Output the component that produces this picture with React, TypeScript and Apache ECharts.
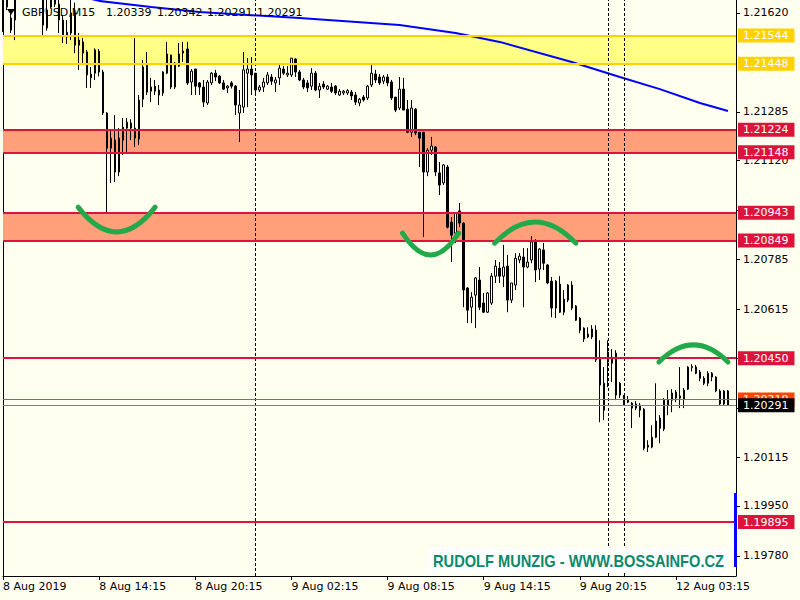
import React, { useEffect, useRef } from 'react';
import * as echarts from 'echarts';

// ---------- data ----------
const symbolTitle = 'GBPUSD,M15';
const headerPrices = ['1.20339', '1.20342', '1.20291', '1.20291'];

// [open, close, low, high] per M15 candle, starting 8 Aug 08:15
const candles: number[][] = [
  [1.21700, 1.21566, 1.21556, 1.21720], [1.21690, 1.21640, 1.21630, 1.21700], [1.21562, 1.21603, 1.21552, 1.21620],
  [1.21596, 1.21690, 1.21528, 1.21710], [1.21700, 1.21730, 1.21680, 1.21745], [1.21730, 1.21715, 1.21695, 1.21750],
  [1.21715, 1.21740, 1.21700, 1.21760], [1.21740, 1.21720, 1.21705, 1.21755], [1.21720, 1.21700, 1.21685, 1.21735],
  [1.21700, 1.21690, 1.21672, 1.21715], [1.21690, 1.21579, 1.21539, 1.21705], [1.21569, 1.21630, 1.21560, 1.21670],
  [1.21640, 1.21690, 1.21635, 1.21700], [1.21690, 1.21650, 1.21640, 1.21705], [1.21650, 1.21596, 1.21552, 1.21664],
  [1.21596, 1.21545, 1.21518, 1.21613], [1.21539, 1.21555, 1.21515, 1.21596], [1.21552, 1.21620, 1.21528, 1.21664],
  [1.21620, 1.21511, 1.21484, 1.21655], [1.21528, 1.21511, 1.21427, 1.21552], [1.21522, 1.21484, 1.21450, 1.21535],
  [1.21488, 1.21410, 1.21366, 1.21495], [1.21400, 1.21413, 1.21366, 1.21437], [1.21416, 1.21495, 1.21393, 1.21500],
  [1.21490, 1.21420, 1.21405, 1.21498], [1.21420, 1.21281, 1.21274, 1.21427], [1.21281, 1.21162, 1.20942, 1.21284],
  [1.21162, 1.21196, 1.21044, 1.21223], [1.21189, 1.21081, 1.21047, 1.21274], [1.21081, 1.21196, 1.21067, 1.21230],
  [1.21189, 1.21233, 1.21139, 1.21264], [1.21230, 1.21250, 1.21142, 1.21264], [1.21247, 1.21230, 1.21189, 1.21260],
  [1.21230, 1.21196, 1.21166, 1.21535], [1.21193, 1.21325, 1.21172, 1.21342], [1.21328, 1.21437, 1.21301, 1.21461],
  [1.21444, 1.21352, 1.21342, 1.21488], [1.21355, 1.21369, 1.21318, 1.21400], [1.21372, 1.21355, 1.21342, 1.21393],
  [1.21359, 1.21342, 1.21308, 1.21376], [1.21349, 1.21420, 1.21339, 1.21423], [1.21416, 1.21481, 1.21413, 1.21522],
  [1.21478, 1.21369, 1.21362, 1.21478], [1.21369, 1.21450, 1.21362, 1.21454], [1.21440, 1.21481, 1.21437, 1.21518],
  [1.21484, 1.21491, 1.21454, 1.21522], [1.21498, 1.21383, 1.21376, 1.21522], [1.21386, 1.21423, 1.21342, 1.21430],
  [1.21430, 1.21372, 1.21342, 1.21430], [1.21383, 1.21369, 1.21342, 1.21386], [1.21369, 1.21318, 1.21301, 1.21393],
  [1.21315, 1.21386, 1.21308, 1.21393], [1.21383, 1.21416, 1.21376, 1.21420], [1.21416, 1.21403, 1.21389, 1.21427],
  [1.21406, 1.21383, 1.21379, 1.21410], [1.21383, 1.21362, 1.21359, 1.21393], [1.21366, 1.21372, 1.21349, 1.21376],
  [1.21383, 1.21372, 1.21364, 1.21389], [1.21372, 1.21308, 1.21274, 1.21376], [1.21281, 1.21308, 1.21183, 1.21359],
  [1.21301, 1.21427, 1.21281, 1.21488], [1.21416, 1.21430, 1.21301, 1.21467], [1.21430, 1.21410, 1.21342, 1.21471],
  [1.21416, 1.21359, 1.21342, 1.21416], [1.21359, 1.21369, 1.21352, 1.21376], [1.21369, 1.21386, 1.21352, 1.21400],
  [1.21383, 1.21410, 1.21376, 1.21420], [1.21403, 1.21389, 1.21376, 1.21413], [1.21383, 1.21393, 1.21352, 1.21403],
  [1.21400, 1.21433, 1.21376, 1.21450], [1.21430, 1.21416, 1.21410, 1.21440], [1.21410, 1.21416, 1.21403, 1.21440],
  [1.21410, 1.21467, 1.21403, 1.21467], [1.21464, 1.21420, 1.21403, 1.21467], [1.21420, 1.21393, 1.21389, 1.21427],
  [1.21393, 1.21369, 1.21362, 1.21400], [1.21383, 1.21366, 1.21352, 1.21393], [1.21372, 1.21416, 1.21359, 1.21433],
  [1.21416, 1.21359, 1.21355, 1.21423], [1.21359, 1.21372, 1.21332, 1.21383], [1.21379, 1.21369, 1.21362, 1.21389],
  [1.21362, 1.21372, 1.21359, 1.21376], [1.21369, 1.21355, 1.21349, 1.21383], [1.21372, 1.21349, 1.21342, 1.21376],
  [1.21342, 1.21355, 1.21339, 1.21362], [1.21349, 1.21355, 1.21342, 1.21359], [1.21349, 1.21357, 1.21342, 1.21362],
  [1.21352, 1.21339, 1.21325, 1.21359], [1.21342, 1.21318, 1.21308, 1.21352], [1.21315, 1.21328, 1.21304, 1.21332],
  [1.21335, 1.21325, 1.21320, 1.21342], [1.21332, 1.21372, 1.21325, 1.21376], [1.21376, 1.21416, 1.21369, 1.21450],
  [1.21413, 1.21393, 1.21383, 1.21427], [1.21403, 1.21383, 1.21376, 1.21413], [1.21389, 1.21403, 1.21379, 1.21410],
  [1.21403, 1.21383, 1.21372, 1.21413], [1.21386, 1.21332, 1.21325, 1.21393], [1.21335, 1.21291, 1.21284, 1.21335],
  [1.21298, 1.21362, 1.21291, 1.21403], [1.21362, 1.21291, 1.21291, 1.21400], [1.21294, 1.21216, 1.21213, 1.21325],
  [1.21216, 1.21298, 1.21200, 1.21325], [1.21294, 1.21213, 1.21206, 1.21298], [1.21216, 1.21196, 1.21098, 1.21216],
  [1.21216, 1.21081, 1.20861, 1.21216], [1.21081, 1.21155, 1.21067, 1.21162], [1.21155, 1.21169, 1.21139, 1.21200],
  [1.21166, 1.21081, 1.21067, 1.21169], [1.21078, 1.21037, 1.21003, 1.21115], [1.21044, 1.21105, 1.21037, 1.21108],
  [1.21098, 1.20894, 1.20890, 1.21105], [1.20911, 1.20867, 1.20776, 1.20928], [1.20874, 1.20942, 1.20840, 1.20945],
  [1.20949, 1.20908, 1.20894, 1.20976], [1.20908, 1.20681, 1.20623, 1.20911], [1.20688, 1.20613, 1.20569, 1.20691],
  [1.20623, 1.20657, 1.20569, 1.20674], [1.20664, 1.20722, 1.20552, 1.20725], [1.20715, 1.20623, 1.20613, 1.20759],
  [1.20637, 1.20606, 1.20603, 1.20671], [1.20606, 1.20671, 1.20603, 1.20674], [1.20637, 1.20728, 1.20630, 1.20739],
  [1.20728, 1.20762, 1.20705, 1.20783], [1.20755, 1.20728, 1.20705, 1.20776], [1.20728, 1.20759, 1.20691, 1.20834],
  [1.20762, 1.20647, 1.20606, 1.20800], [1.20647, 1.20705, 1.20637, 1.20705], [1.20698, 1.20789, 1.20681, 1.20806],
  [1.20783, 1.20796, 1.20772, 1.20806], [1.20793, 1.20759, 1.20623, 1.20823], [1.20759, 1.20776, 1.20755, 1.20823],
  [1.20783, 1.20844, 1.20772, 1.20864], [1.20844, 1.20749, 1.20708, 1.20854], [1.20752, 1.20820, 1.20715, 1.20823],
  [1.20817, 1.20772, 1.20749, 1.20841], [1.20766, 1.20705, 1.20701, 1.20769], [1.20711, 1.20620, 1.20589, 1.20725],
  [1.20620, 1.20711, 1.20586, 1.20715], [1.20701, 1.20606, 1.20603, 1.20728], [1.20606, 1.20650, 1.20596, 1.20681],
  [1.20647, 1.20698, 1.20640, 1.20701], [1.20698, 1.20620, 1.20613, 1.20711], [1.20627, 1.20579, 1.20576, 1.20630],
  [1.20586, 1.20545, 1.20535, 1.20589], [1.20552, 1.20515, 1.20505, 1.20555], [1.20522, 1.20532, 1.20518, 1.20555],
  [1.20522, 1.20549, 1.20515, 1.20562], [1.20545, 1.20444, 1.20437, 1.20562], [1.20450, 1.20359, 1.20233, 1.20511],
  [1.20365, 1.20274, 1.20240, 1.20420], [1.20471, 1.20437, 1.20352, 1.20511], [1.20433, 1.20454, 1.20369, 1.20481],
  [1.20467, 1.20325, 1.20308, 1.20477], [1.20365, 1.20325, 1.20315, 1.20369], [1.20322, 1.20298, 1.20291, 1.20325],
  [1.20308, 1.20301, 1.20298, 1.20322], [1.20298, 1.20281, 1.20213, 1.20301], [1.20281, 1.20295, 1.20274, 1.20305],
  [1.20291, 1.20274, 1.20250, 1.20298], [1.20277, 1.20145, 1.20138, 1.20281], [1.20149, 1.20155, 1.20132, 1.20172],
  [1.20149, 1.20182, 1.20145, 1.20223], [1.20182, 1.20237, 1.20179, 1.20365], [1.20247, 1.20213, 1.20162, 1.20257],
  [1.20210, 1.20308, 1.20203, 1.20315], [1.20291, 1.20308, 1.20257, 1.20342], [1.20332, 1.20308, 1.20267, 1.20345],
  [1.20335, 1.20315, 1.20301, 1.20342], [1.20322, 1.20315, 1.20281, 1.20420], [1.20312, 1.20342, 1.20281, 1.20349],
  [1.20345, 1.20420, 1.20342, 1.20423], [1.20418, 1.20422, 1.20405, 1.20430], [1.20420, 1.20399, 1.20396, 1.20427],
  [1.20403, 1.20382, 1.20372, 1.20410], [1.20382, 1.20365, 1.20359, 1.20389], [1.20365, 1.20399, 1.20355, 1.20406],
  [1.20399, 1.20386, 1.20372, 1.20403], [1.20386, 1.20339, 1.20335, 1.20389], [1.20339, 1.20295, 1.20291, 1.20345],
  [1.20295, 1.20339, 1.20291, 1.20342], [1.20339, 1.20291, 1.20291, 1.20342],
];

// moving average (blue), read at a few candles: [candle index, price]
const maPoints: number[][] = [
  [20, 1.21674], [24, 1.21661], [37, 1.21640], [49, 1.21623], [74, 1.21603], [99, 1.21579],
  [113, 1.21552], [124, 1.21522], [142, 1.21454], [154, 1.21403], [164, 1.21362], [174, 1.21315], [181, 1.21288],
];

const yTickValues = [1.2162, 1.21285, 1.2112, 1.2095, 1.20785, 1.20615, 1.2045, 1.2028, 1.20115, 1.1995, 1.1978];
const xTickIndices = [0, 24, 48, 72, 96, 120, 144, 168];
const xTickLabels = ['8 Aug 2019', '8 Aug 14:15', '8 Aug 20:15', '9 Aug 02:15', '9 Aug 08:15', '9 Aug 14:15', '9 Aug 20:15', '12 Aug 03:15'];

const yellowZone = [1.21544, 1.21448];
const redZones = [[1.21224, 1.21148], [1.20943, 1.20849]];
const redLevels = [1.2045, 1.19895];
const askPrice = 1.2031;
const bidPrice = 1.20291;
const separatorIndices = [63, 151, 155];

// hand-drawn arcs: candle range, price at ends, price at apex
const arcs = [
  { from: 18.75, to: 38, end: 1.20962, apex: 1.20878 },
  { from: 99.75, to: 113.75, end: 1.20874, apex: 1.20800 },
  { from: 122.75, to: 143, end: 1.20840, apex: 1.20912 },
  { from: 163.75, to: 181, end: 1.20437, apex: 1.20495 },
];

const Y_MIN = 1.19712;
const Y_MAX = 1.21664;
const PAD_CANDLES = 2;

// category (time) names
const categories: string[] = [];
for (let i = 0; i < candles.length + PAD_CANDLES; i++) {
  let day: number, mins: number;
  if (i < 63) { day = 8; mins = 8 * 60 + 15 + 15 * i; }
  else if (i < 155) { day = 9; mins = 15 * (i - 63); }
  else { day = 12; mins = 15 * (i - 155); }
  const hh = String(Math.floor(mins / 60)).padStart(2, '0');
  const mm = String(mins % 60).padStart(2, '0');
  categories.push(`${day} Aug ${hh}:${mm}`);
}

const FONT = 'DejaVu Sans';
const BG = '#FFFFF0';
const GOLD = '#FFD200';
const CRIMSON = '#DC143C';

function priceLabel(color: string, textColor = '#FFFFFF') {
  return {
    show: true,
    position: 'end',
    distance: 2,
    color: textColor,
    backgroundColor: color,
    padding: [2, 6, 1, 5],
    fontSize: 11,
    lineHeight: 11,
    fontFamily: FONT,
  };
}

function hLine(value: number, color: string, width: number, labelBg: string) {
  return {
    yAxis: value,
    lineStyle: { color, width, type: 'solid' },
    label: { ...priceLabel(labelBg), formatter: () => value.toFixed(5) },
  };
}

export default function App() {
  const ref = useRef<HTMLDivElement>(null);

  useEffect(() => {
    document.body.style.margin = '0';
    const chart = echarts.init(ref.current!, null, { renderer: 'svg' });

    const markLineData: any[] = [
      ...separatorIndices.map((i) => ({
        xAxis: categories[i],
        lineStyle: { color: '#000000', width: 1, type: [3, 2] },
        label: { show: false },
      })),
      hLine(yellowZone[0], GOLD, 2, GOLD),
      hLine(yellowZone[1], GOLD, 2, GOLD),
      ...redZones.flatMap((z) => [hLine(z[0], CRIMSON, 2, CRIMSON), hLine(z[1], CRIMSON, 2, CRIMSON)]),
      ...redLevels.map((v) => hLine(v, CRIMSON, 2, CRIMSON)),
      hLine(askPrice, '#FF4500', 1, '#FF4500'),
      hLine(bidPrice, '#808080', 1, '#000000'),
    ];

    const option: any = {
      animation: false,
      backgroundColor: BG,
      grid: { left: 3, right: 64, top: 0, bottom: 24 },
      xAxis: {
        type: 'category',
        data: categories,
        boundaryGap: false,
        axisLine: { show: true, lineStyle: { color: '#000', width: 1 } },
        axisTick: {
          show: true,
          length: 4,
          interval: (i: number) => xTickIndices.includes(i),
          lineStyle: { color: '#000' },
        },
        axisLabel: {
          show: true,
          interval: (i: number) => xTickIndices.includes(i),
          formatter: (_v: string, i: number) => {
            const k = xTickIndices.indexOf(i);
            return k >= 0 ? xTickLabels[k] : '';
          },
          align: 'left',
          margin: 5,
          color: '#000',
          fontSize: 11,
          fontFamily: FONT,
        },
        splitLine: { show: false },
      },
      yAxis: [
        {
          type: 'value',
          position: 'right',
          min: Y_MIN,
          max: Y_MAX,
          axisLine: { show: true, lineStyle: { color: '#000', width: 1 } },
          axisTick: { show: true, length: 4, customValues: yTickValues, lineStyle: { color: '#000' } },
          axisLabel: {
            show: true,
            customValues: yTickValues,
            formatter: (v: number) => v.toFixed(5),
            margin: 7,
            color: '#000',
            fontSize: 11,
            fontFamily: FONT,
          },
          splitLine: { show: false },
        },
        {
          type: 'value',
          position: 'left',
          min: Y_MIN,
          max: Y_MAX,
          axisLine: { show: true, onZero: false, lineStyle: { color: '#000', width: 1 } },
          axisTick: { show: false },
          axisLabel: { show: false },
          splitLine: { show: false },
        },
      ],
      series: [
        {
          type: 'candlestick',
          data: candles,
          barWidth: 2,
          clip: true,
          itemStyle: {
            color: '#FFFFFF',
            color0: '#000000',
            borderColor: '#000000',
            borderColor0: '#000000',
            borderWidth: 1,
          },
          markArea: {
            silent: true,
            data: [
              [{ yAxis: yellowZone[0], itemStyle: { color: '#FFFF88' } }, { yAxis: yellowZone[1] }],
              ...redZones.map((z) => [{ yAxis: z[0], itemStyle: { color: '#FFA07A' } }, { yAxis: z[1] }]),
            ],
          },
          markLine: {
            silent: true,
            precision: 5,
            symbol: ['none', 'none'],
            data: markLineData,
          },
        },
        {
          type: 'line',
          data: maPoints,
          showSymbol: false,
          symbol: 'none',
          clip: true,
          z: 3,
          lineStyle: { color: '#0000FF', width: 2 },
        },
      ],
    };

    chart.setOption(option);

    const px0 = chart.convertToPixel({ xAxisIndex: 0 }, 0) as number;
    const px180 = chart.convertToPixel({ xAxisIndex: 0 }, 180) as number;
    const step = (px180 - px0) / 180;
    const px = (i: number) => px0 + step * i;
    const py = (v: number) => chart.convertToPixel({ yAxisIndex: 0 }, v) as number;

    const arcGraphics = arcs.map((a) => {
      const x1 = px(a.from);
      const x2 = px(a.to);
      const ye = py(a.end);
      const ya = py(a.apex);
      return {
        type: 'bezierCurve',
        z: 50,
        shape: { x1, y1: ye, x2, y2: ye, cpx1: (x1 + x2) / 2, cpy1: 2 * ya - ye },
        style: { stroke: '#22AA4A', lineWidth: 5, fill: null, lineCap: 'round' },
      };
    });

    const headerX = [106, 157, 207, 257];
    chart.setOption({
      graphic: [
        ...arcGraphics,
        {
          type: 'polygon',
          z: 60,
          shape: { points: [[7, 9], [15, 9], [11, 15]] },
          style: { fill: '#000' },
        },
        {
          type: 'text',
          z: 60,
          x: 22,
          y: 12,
          style: { text: symbolTitle, fill: '#000', fontSize: 11, fontFamily: FONT, verticalAlign: 'middle' },
        },
        ...headerPrices.map((t, k) => ({
          type: 'text',
          z: 60,
          x: headerX[k],
          y: 12,
          style: { text: t, fill: '#000', fontSize: 11, fontFamily: FONT, verticalAlign: 'middle' },
        })),
        {
          type: 'rect',
          z: 60,
          shape: { x: 428, y: 548, width: 300, height: 25 },
          style: { fill: '#FFFFFF' },
        },
        {
          type: 'text',
          z: 61,
          x: 433,
          y: 561,
          scaleX: 0.915,
          style: {
            text: 'RUDOLF MUNZIG - WWW.BOSSAINFO.CZ',
            fill: '#0A8A6A',
            fontSize: 16,
            fontWeight: 'bold',
            fontFamily: 'Liberation Sans',
            verticalAlign: 'middle',
          },
        },
        {
          type: 'rect',
          z: 62,
          shape: { x: 734, y: 493, width: 3, height: 74 },
          style: { fill: '#0000FF' },
        },
      ],
    });

    return () => chart.dispose();
  }, []);

  return <div ref={ref} style={{ width: 800, height: 600 }} />;
}
